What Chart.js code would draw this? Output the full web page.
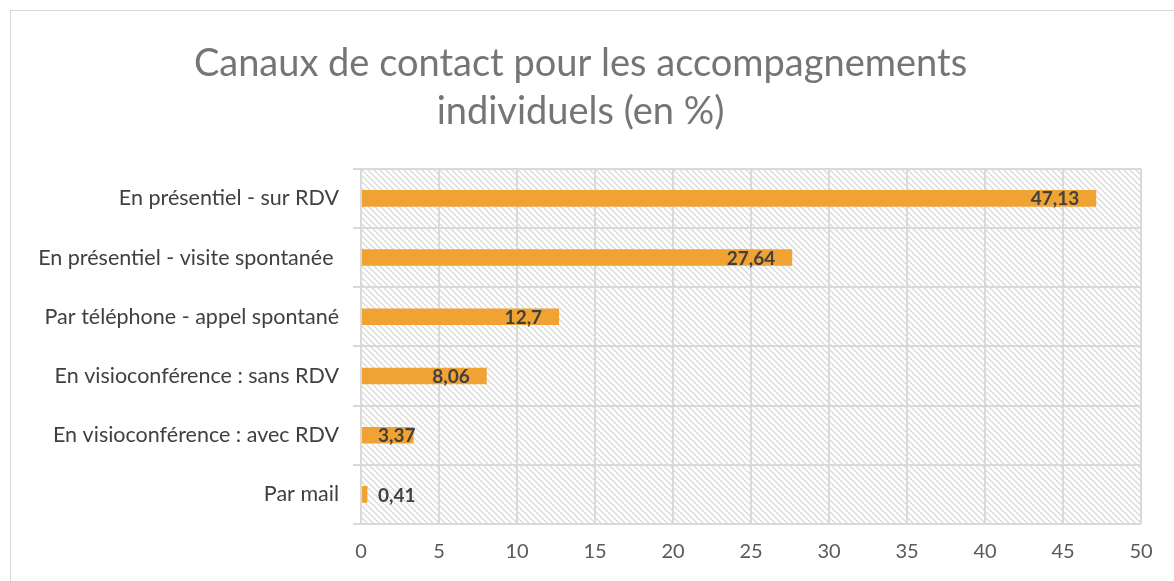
<!DOCTYPE html>
<html>
<head>
<meta charset="utf-8">
<script src="https://cdn.jsdelivr.net/npm/chart.js@4.4.0/dist/chart.umd.min.js"></script>
<style>
  html, body { margin: 0; padding: 0; background: #fff; }
  #wrap { position: absolute; left: 0; top: 0; width: 1174px; height: 581px; }
  #frame { position: absolute; left: 10px; top: 10px; width: 1200px; height: 600px; border: 1px solid #d9d9d9; }
</style>
</head>
<body>
<div id="wrap">
  <div id="frame"></div>
  <canvas id="c" width="1174" height="581"></canvas>
</div>
<script>
// data
const categories = [
  "En présentiel - sur RDV",
  "En présentiel - visite spontanée ",
  "Par téléphone - appel spontané",
  "En visioconférence : sans RDV",
  "En visioconférence : avec RDV",
  "Par mail"
];
const values = [47.13, 27.64, 12.7, 8.06, 3.37, 0.41];
const valueLabels = ["47,13", "27,64", "12,7", "8,06", "3,37", "0,41"];
const xTicks = [0, 5, 10, 15, 20, 25, 30, 35, 40, 45, 50];

const FONT = "Lato, 'Open Sans', sans-serif";

// hatch pattern for plot area
function makeHatch(ctx) {
  const n = 6;
  const p = document.createElement('canvas');
  p.width = n; p.height = n;
  const g = p.getContext('2d');
  g.strokeStyle = '#d9d9d9';
  g.lineWidth = 1.3;
  g.beginPath();
  g.moveTo(0, 0); g.lineTo(n, n);
  g.moveTo(-n / 2, n / 2); g.lineTo(n / 2, n * 1.5);
  g.moveTo(n / 2, -n / 2); g.lineTo(n * 1.5, n / 2);
  g.stroke();
  return ctx.createPattern(p, 'repeat');
}

const hatchBg = {
  id: 'hatchBg',
  beforeDraw(chart) {
    const a = chart.chartArea, ctx = chart.ctx;
    ctx.save();
    ctx.fillStyle = makeHatch(ctx);
    ctx.fillRect(a.left, a.top, a.right - a.left, a.bottom - a.top);
    ctx.restore();
  }
};

// value labels near the bar end, pushed right when the bar is too short
const barLabels = {
  id: 'barLabels',
  afterDatasetsDraw(chart) {
    const ctx = chart.ctx;
    const meta = chart.getDatasetMeta(0);
    ctx.save();
    ctx.font = "bold 19px " + FONT;
    ctx.fillStyle = '#404040';
    ctx.textBaseline = 'middle';
    ctx.textAlign = 'left';
    meta.data.forEach((bar, i) => {
      const txt = valueLabels[i];
      const w = ctx.measureText(txt).width;
      const left = Math.max(bar.x - 17 - w, bar.base + 16);
      ctx.fillText(txt, left, bar.y + 1);
    });
    ctx.restore();
  }
};

new Chart(document.getElementById('c'), {
  type: 'bar',
  data: {
    labels: categories,
    datasets: [{
      data: values,
      backgroundColor: '#f0a232',
      borderWidth: 0,
      categoryPercentage: 1,
      barPercentage: 0.28
    }]
  },
  options: {
    indexAxis: 'y',
    responsive: false,
    animation: false,
    layout: { padding: { left: 20, right: 33, top: 20, bottom: 8 } },
    plugins: {
      legend: { display: false },
      tooltip: { enabled: false },
      title: {
        display: true,
        text: ["Canaux de contact pour les accompagnements", "individuels (en %)"],
        color: '#757575',
        font: { family: FONT, size: 38, weight: 'normal', lineHeight: 1.26 },
        padding: { top: 20, bottom: 33 }
      }
    },
    scales: {
      x: {
        min: 0, max: 50,
        afterBuildTicks(s) { s.ticks = xTicks.map(v => ({ value: v })); },
        afterFit(s) { s.height = 49; },
        grid: { color: '#d9d9d9', lineWidth: 2, drawTicks: false },
        border: { display: false },
        ticks: { color: '#595959', font: { family: FONT, size: 20 }, padding: 16 }
      },
      y: {
        afterFit(s) { s.width = 341; },
        grid: { color: '#d9d9d9', lineWidth: 2, tickLength: 8, offset: true },
        border: { color: '#d9d9d9', width: 2 },
        ticks: { color: '#404040', font: { family: FONT, size: 21.5 }, padding: 14 }
      }
    }
  },
  plugins: [hatchBg, barLabels]
});
</script>
</body>
</html>
